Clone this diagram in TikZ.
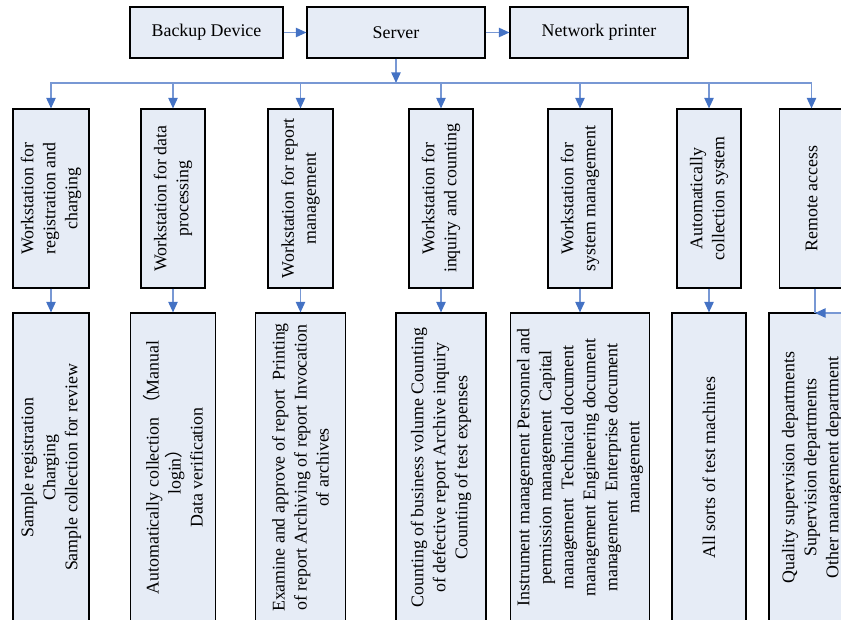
\documentclass[tikz,border=0pt]{standalone}
\usepackage{fontspec}
\setmainfont{Liberation Serif}
\newfontfamily\cjk{Noto Sans CJK SC}
\usetikzlibrary{arrows.meta}
\definecolor{boxfill}{RGB}{230,236,246}
\definecolor{busline}{RGB}{120,152,212}
\definecolor{tipblue}{RGB}{68,114,196}
\begin{document}
\begin{tikzpicture}[x=0.75pt,y=-0.75pt,
  font=\fontsize{13.4}{16.5}\selectfont,
  topbox/.style={draw, rectangle, fill=boxfill, line width=0.8pt, inner sep=0pt, minimum height=38.25pt},
  sidebox/.style={topbox, rotate=90, align=center},
  flow/.style={draw=busline, line width=1.2pt, -{Triangle[length=8pt,width=7pt,color=tipblue]}}]
\useasboundingbox (0,0) rectangle (841,620);
\clip (0,0) rectangle (841,620);

% top row
\node (backup) [topbox, minimum width=114.75pt] at (206.5,32.5) {Backup Device};
\node (server) [topbox, minimum width=133.5pt] at (396,32.5) {Server};
\node (printer) [topbox, minimum width=133.5pt] at (599,32.5) {Network printer};
\coordinate (hub) at (396,83);

% workstations
\node (m1) [sidebox, minimum width=134.25pt, minimum height=57pt] at (51,198.5) {Workstation for\\registration and\\charging};
\node (m2) [sidebox, minimum width=134.25pt, minimum height=48pt] at (173,198.5) {Workstation for data\\processing};
\node (m3) [sidebox, minimum width=134.25pt, minimum height=48.75pt] at (300.5,198.5) {Workstation for report\\management};
\node (m4) [sidebox, minimum width=134.25pt, minimum height=48pt] at (441,198.5) {Workstation for\\inquiry and counting};
\node (m5) [sidebox, minimum width=134.25pt, minimum height=48pt] at (580,198.5) {Workstation for\\system management};
\node (m6) [sidebox, minimum width=134.25pt, minimum height=48pt] at (709,198.5) {Automatically\\collection system};
\node (m7) [sidebox, minimum width=134.25pt, minimum height=48pt] at (811.5,198.5) {Remote access};

% functions
\node (b1) [sidebox, minimum width=231.75pt, minimum height=57pt] at (51,467.5) {Sample registration\\Charging\\Sample collection for review};
\node (b2) [sidebox, minimum width=231.75pt, minimum height=63.75pt] at (173,467.5) {Automatically collection {\cjk （}Manual\\login{\cjk ）}\\Data verification};
\node (b3) [sidebox, minimum width=231.75pt, minimum height=67.5pt] at (300.5,467.5) {Examine and approve of report\ \ Printing\\of report Archiving of report Invocation\\of archives};
\node (b4) [sidebox, minimum width=231.75pt, minimum height=67.5pt] at (441,467.5) {Counting of business volume Counting\\of defective report Archive inquiry\\Counting of test expenses};
\node (b5) [sidebox, minimum width=231.75pt, minimum height=104.25pt] at (580,467.5) {Instrument management Personnel and\\permission management\ \ Capital\\management\ \ Technical document\\management Engineering document\\management\ \ Enterprise document\\management};
\node (b6) [sidebox, minimum width=231.75pt, minimum height=55.5pt] at (709,467.5) {All sorts of test machines};
\node (b7) [sidebox, minimum width=231.75pt, minimum height=64.5pt] at (812,467.5) {Quality supervision departments\\Supervision departments\\Other management department};
\coordinate (racorner) at (815,313);
\coordinate (rain) at (845,313);

\draw[flow] (backup) -- (server);
\draw[flow] (server) -- (printer);
\draw[flow] (server) -- (hub);
\foreach \i in {1,...,7}
  \draw[flow] (hub) -| (m\i);
\foreach \i in {1,...,6}
  \draw[flow] (m\i) -- (b\i);
\draw[draw=busline, line width=1.2pt] (racorner |- m7.west) -- (racorner);
\draw[flow] (rain) -- (racorner);
\end{tikzpicture}
\end{document}
